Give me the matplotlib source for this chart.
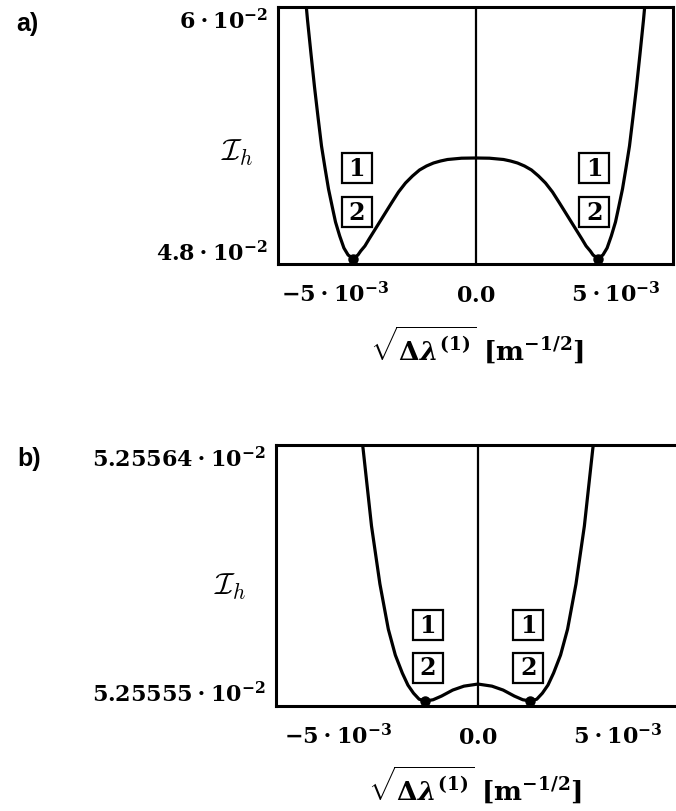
import matplotlib
matplotlib.use("Agg")
import matplotlib.pyplot as plt
from matplotlib import transforms

plt.rcParams["mathtext.fontset"] = "custom"
plt.rcParams["mathtext.rm"] = "DejaVu Serif:bold"
plt.rcParams["mathtext.bf"] = "DejaVu Serif:bold"
plt.rcParams["mathtext.it"] = "DejaVu Serif:italic:bold"
plt.rcParams["font.family"] = "DejaVu Serif"

# Panel a: x in units of 1e-3 m^-1/2, I_h in units of 1e-2
xa = [-6.2, -6.0, -5.875, -5.75, -5.625, -5.5, -5.375, -5.25, -5.1, -5.0, -4.85, -4.7, -4.55,
      -4.37, -4.2, -4.1, -3.95, -3.8, -3.6, -3.4, -3.2, -3.0, -2.75, -2.5, -2.25, -2.0,
      -1.75, -1.5, -1.25, -1.0, -0.5, 0.0,
      0.5, 1.0, 1.25, 1.5, 1.75, 2.0, 2.25, 2.5, 2.75, 3.0, 3.2, 3.4, 3.6, 3.8, 3.95,
      4.1, 4.2, 4.37, 4.55, 4.7, 4.85, 5.0, 5.1, 5.25, 5.375, 5.5, 5.625, 5.75, 5.875, 6.0, 6.2]
ya = [6.3052, 5.9897, 5.8138, 5.6431, 5.4879, 5.3379, 5.2241, 5.1155, 5.0121, 4.9448, 4.8724, 4.8103, 4.7741,
      4.7560, 4.7741, 4.7948, 4.8207, 4.8569, 4.9034, 4.9500, 4.9966, 5.0431, 5.1000, 5.1466, 5.1828, 5.2138,
      5.2345, 5.2500, 5.2603, 5.2681, 5.2748, 5.2759,
      5.2748, 5.2681, 5.2603, 5.2500, 5.2345, 5.2138, 5.1828, 5.1466, 5.1000, 5.0431, 4.9966, 4.9500, 4.9034, 4.8569, 4.8207,
      4.7948, 4.7741, 4.7560, 4.7741, 4.8103, 4.8724, 4.9448, 5.0121, 5.1155, 5.2241, 5.3379, 5.4879, 5.6431, 5.8138, 5.9897, 6.3052]
a_min_x = [-4.37, 4.37]
a_min_y = [4.7560, 4.7560]
a_box_x = [-4.25, 4.25]

# Panel b
xb = [-4.3, -4.1, -3.8, -3.5, -3.2, -2.95, -2.7, -2.5, -2.3, -2.1, -1.875, -1.6, -1.3, -0.9, -0.5, 0.0,
      0.5, 0.9, 1.3, 1.6, 1.875, 2.1, 2.3, 2.5, 2.7, 2.95, 3.2, 3.5, 3.8, 4.1, 4.3]
yb = [5.2556599, 5.2556427, 5.2556132, 5.2555910, 5.2555737, 5.2555638, 5.2555569, 5.2555523,
      5.2555492, 5.2555469, 5.2555462, 5.2555467, 5.2555481, 5.2555504, 5.2555519, 5.2555527,
      5.2555519, 5.2555504, 5.2555481, 5.2555467, 5.2555462, 5.2555469, 5.2555492, 5.2555523,
      5.2555569, 5.2555638, 5.2555737, 5.2555910, 5.2556132, 5.2556427, 5.2556599]
b_min_x = [-1.875, 1.875]
b_min_y = [5.2555462, 5.2555462]
b_box_x = [-1.8, 1.8]

xticks = [-5, 0, 5]
xticklabels = [r"$-5\cdot10^{-3}$", r"$0.0$", r"$5\cdot10^{-3}$"]
a_yticks = [4.8, 6.0]
a_yticklabels = [r"$4.8\cdot10^{-2}$", r"$6\cdot10^{-2}$"]
b_yticks = [5.25555, 5.25564]
b_yticklabels = [r"$5.25555\cdot10^{-2}$", r"$5.25564\cdot10^{-2}$"]
box_labels = ["1", "2"]

W, H = 676, 812
fig = plt.figure(figsize=(W / 100, H / 100), dpi=100)


def px_axes(l, t, r, b):
    return fig.add_axes([l / W, 1 - b / H, (r - l) / W, (b - t) / H])


def style(ax, xlim, ylim, yticks, yticklabels):
    ax.set_xlim(*xlim)
    ax.set_ylim(*ylim)
    ax.set_xticks(xticks)
    ax.set_xticklabels(xticklabels, fontsize=16)
    ax.set_yticks(yticks)
    ax.set_yticklabels(yticklabels, fontsize=16)
    ax.tick_params(axis="y", length=0, pad=7)
    ax.tick_params(axis="x", length=0, pad=27)
    for lab in ax.get_xticklabels():
        lab.set_verticalalignment("baseline")
    for s in ax.spines.values():
        s.set_linewidth(2.2)
    ax.axvline(0, color="black", lw=1.6, zorder=2)


def boxes(ax, xs, yfracs):
    tr = transforms.blended_transform_factory(ax.transData, ax.transAxes)
    for x in xs:
        for yf, lab in zip(yfracs, box_labels):
            ax.plot([x], [yf], marker="s", ms=22, mfc="white", mec="black",
                    mew=1.6, transform=tr, zorder=4, clip_on=False)
            ax.text(x, yf, r"$%s$" % lab, transform=tr, ha="center",
                    va="center", fontsize=17, zorder=5)


# ---- panel a
axa = px_axes(278, 8, 673, 265)
style(axa, (-7.054, 7.054), (4.72759, 6.05690), a_yticks, a_yticklabels)
axa.plot(xa, ya, color="black", lw=2.3, zorder=3)
axa.plot(a_min_x, a_min_y, "o", color="black", ms=6.5, zorder=3)
boxes(axa, a_box_x, [0.3735, 0.2004])

# ---- panel b
axb = px_axes(276, 446, 681, 707)
style(axb, (-7.21, 7.25), (5.2555443, 5.2556442), b_yticks, b_yticklabels)
axb.plot(xb, yb, color="black", lw=2.3, zorder=3)
axb.plot(b_min_x, b_min_y, "o", color="black", ms=6.5, zorder=3)
boxes(axb, b_box_x, [0.310, 0.1456])

xlabel = r"$\sqrt{\Delta\lambda^{(1)}}\ [\mathrm{m}^{-1/2}]$"
fig.text(477 / W, 1 - 325 / H, xlabel, ha="center", va="top", fontsize=19)
fig.text(475 / W, 1 - 765 / H, xlabel, ha="center", va="top", fontsize=19)

fig.text(237 / W, 1 - 153 / H, r"$\mathcal{I}_h$", math_fontfamily="cm",
         ha="center", va="center", fontsize=22)
fig.text(230 / W, 1 - 587 / H, r"$\mathcal{I}_h$", math_fontfamily="cm",
         ha="center", va="center", fontsize=22)

fig.text(27 / W, 1 - 24 / H, "a)", family="Liberation Sans", fontweight="bold",
         fontsize=18, ha="center", va="center")
fig.text(29 / W, 1 - 459 / H, "b)", family="Liberation Sans", fontweight="bold",
         fontsize=18, ha="center", va="center")

fig.savefig("out.png", dpi=100, facecolor="white")
